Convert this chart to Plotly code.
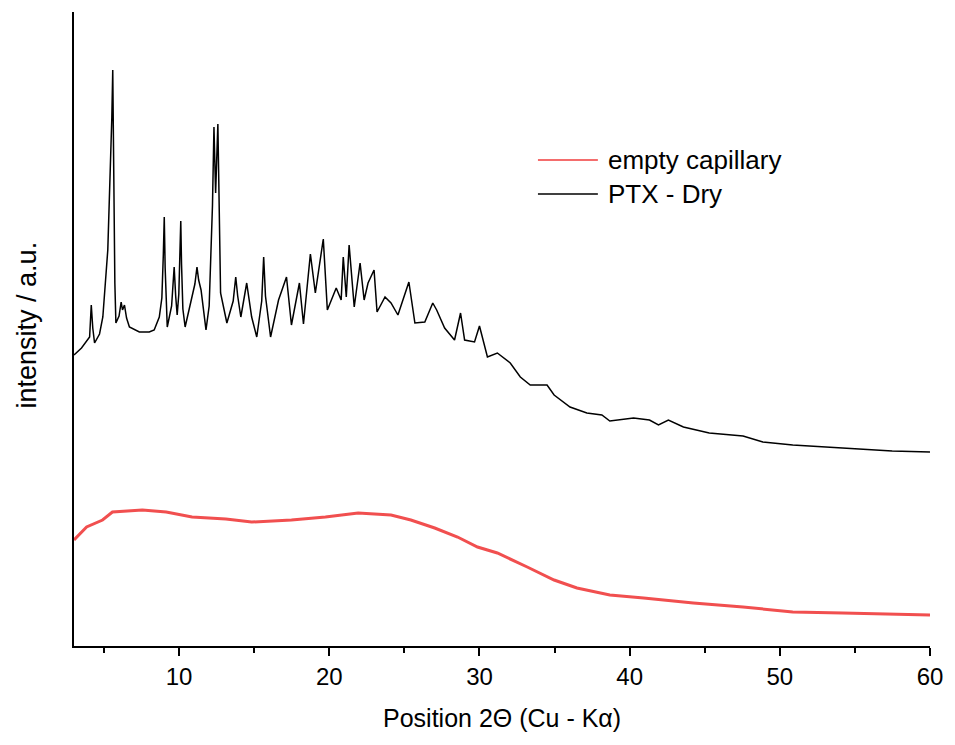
import plotly.graph_objects as go

# PTX - Dry (black) : 2theta, intensity (a.u.)
ptx_x = [3.00, 3.50, 4.04, 4.15, 4.25, 4.37, 4.70, 4.92, 5.25, 5.41, 5.52, 5.58, 5.65, 5.72, 5.79,
         6.00, 6.14, 6.23, 6.36, 6.50, 6.69, 7.35, 8.01, 8.34, 8.68, 8.85, 8.95, 9.01, 9.07, 9.14, 9.21,
         9.50, 9.67, 9.77, 9.87, 9.98, 10.06, 10.11, 10.16, 10.25, 10.40, 10.86, 11.05, 11.19, 11.30,
         11.46, 11.79, 12.00, 12.12, 12.22, 12.32, 12.43, 12.58, 12.66,
         12.76, 13.18, 13.60, 13.77, 13.90, 14.11, 14.50, 14.83, 15.17, 15.50, 15.63, 15.75, 16.09, 16.62,
         17.15, 17.48, 18.01, 18.28, 18.74, 19.07, 19.60, 19.87, 20.46, 20.79,
         20.93, 21.13, 21.32, 21.66, 22.05, 22.32, 22.58, 22.98, 23.18, 23.71,
         24.11, 24.57, 25.30, 25.70, 26.36, 26.89, 27.15, 27.68, 28.34, 28.74,
         29.01, 29.67, 30.00, 30.53, 31.19, 32.05, 32.72, 33.38, 34.50, 34.97,
         36.03, 37.15, 38.15, 38.68, 40.26, 41.32, 41.92, 42.58, 43.58, 45.30,
         47.55, 48.87, 50.86, 54.17, 57.48, 60.00]
ptx_y = [291, 298, 309, 341, 318, 303, 312, 329, 396, 463, 529, 576, 463, 363, 323,
         330, 344, 336, 341, 328, 319, 314, 314, 316, 329, 348, 392, 429, 378, 336, 319,
         340, 379, 350, 331, 352, 396, 425, 382, 337, 319, 349, 362, 379, 366,
         356, 316, 340, 396, 440, 519, 453, 522, 420,
         353, 323, 345, 369, 350, 329, 363, 329, 309, 345, 389, 350, 309, 346,
         369, 321, 363, 322, 392, 353, 407, 336, 358, 346,
         389, 349, 401, 339, 383, 346, 363, 376, 334, 349,
         343, 331, 364, 323, 324, 343, 336, 318, 306, 333,
         306, 304, 320, 289, 293, 283, 269, 261, 261, 251,
         239, 233, 231, 225, 228, 226, 221, 226, 219, 213,
         210, 204, 201, 198, 195, 194]

# empty capillary (red)
cap_x = [3.00, 3.84, 4.90, 5.56, 7.55, 9.14, 10.86, 13.11, 14.83, 17.48, 19.74,
         21.92, 24.11, 25.43, 27.02, 28.54, 29.87, 31.19, 33.18, 34.97, 36.49,
         38.68, 40.93, 44.24, 47.55, 50.86, 54.17, 60.00]
cap_y = [106, 119, 126, 134, 136, 134, 129, 127, 124, 126, 129,
         133, 131, 126, 118, 109, 99, 93, 79, 66, 58,
         51, 48, 43, 39, 34, 33, 31]

x_ticks = [10, 20, 30, 40, 50, 60]
legend_names = ["empty capillary", "PTX - Dry"]
red = "#f03c3c"
FONT = "Liberation Sans, Arial, sans-serif"

fig = go.Figure()
fig.add_trace(go.Scatter(x=cap_x, y=cap_y, mode="lines", name=legend_names[0],
                         line=dict(color=red, width=3), opacity=0.9, showlegend=False))
fig.add_trace(go.Scatter(x=ptx_x, y=ptx_y, mode="lines", name=legend_names[1],
                         line=dict(color="black", width=1.5), showlegend=False))

# custom legend
for i, (name, col) in enumerate(zip(legend_names, [red, "black"])):
    yp = 0.7666 - i * 0.0537
    fig.add_shape(type="line", xref="paper", yref="paper", x0=0.542, x1=0.612,
                  y0=yp, y1=yp, line=dict(color=col, width=1.3))
    fig.add_annotation(xref="paper", yref="paper", x=0.622, y=yp, text=name,
                       showarrow=False, xanchor="left", yanchor="middle",
                       font=dict(family=FONT, size=26, color="black"))

fig.add_annotation(xref="paper", yref="paper", x=-0.0546, y=0.506,
                   text="intensity / a.u.", textangle=-90, showarrow=False,
                   xanchor="center", yanchor="middle",
                   font=dict(family=FONT, size=27, color="black"))
fig.add_annotation(xref="paper", yref="paper", x=0.5, y=-0.1136,
                   text="Position 2Θ (Cu - Kα)", showarrow=False,
                   xanchor="center", yanchor="middle",
                   font=dict(family=FONT, size=25, color="black"))

fig.update_layout(
    width=955, height=745,
    margin=dict(l=74, r=20, t=12, b=99),
    paper_bgcolor="white", plot_bgcolor="white",
    font=dict(family=FONT, size=24, color="black"),
    xaxis=dict(range=[3, 60], tickvals=x_ticks, ticks="outside", ticklen=8,
               tickwidth=2, tickcolor="black", showline=True, linewidth=2,
               linecolor="black", showgrid=False, zeroline=False,
               tickfont=dict(family=FONT, size=24, color="black"),
               minor=dict(tickvals=[5, 15, 25, 35, 45, 55], ticks="outside",
                          ticklen=5, tickwidth=2, tickcolor="black", showgrid=False)),
    yaxis=dict(range=[0, 634], showticklabels=False, ticks="", showline=True,
               linewidth=2, linecolor="black", showgrid=False, zeroline=False),
)

fig.write_html("out.html")
